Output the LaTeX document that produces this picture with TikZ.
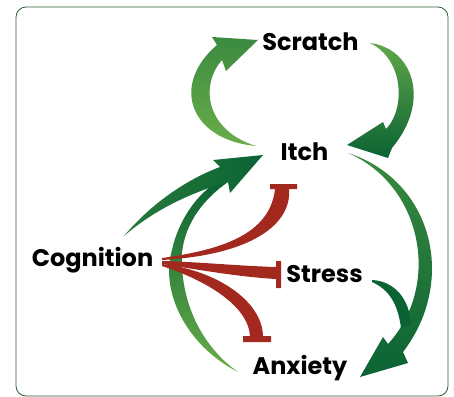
\documentclass[tikz,border=0pt]{standalone}
\usepackage{fontspec}
\setmainfont{Poppins}
\definecolor{leafdark}{HTML}{0B6334}
\definecolor{leafmid}{HTML}{3B8A40}
\definecolor{leaflight}{HTML}{6AAE4A}
\definecolor{calmred}{HTML}{A3291F}
\definecolor{framegreen}{HTML}{2E5E35}
\begin{document}
\begin{tikzpicture}[x=1pt, y=-1pt,
    every node/.style={font=\fontsize{24}{28}\selectfont\bfseries, anchor=base, inner sep=0pt},
    frame/.style={draw=framegreen, line width=0.8pt, rounded corners=10pt},
    boost/.style={fill=leafdark},
    inhibit/.style={fill=calmred},
]
  \useasboundingbox (0,0) rectangle (454,396);
  \draw [frame] (16,7) rectangle (448,396);

  \node (scratch)   at (310.5,50)  {Scratch};
  \node (itch)      at (304.5,160) {Itch};
  \node (cognition) at (92.5,266)  {Cognition};
  \node (stress)    at (324.5,282) {Stress};
  \node (anxiety)   at (300,374)   {Anxiety};

  \shade [top color=leafmid, bottom color=leaflight]
    (256,146) .. controls (190,140) and (170,85) .. (217,45) -- (212,37) -- (258,40)
    -- (226,71) -- (222,60) .. controls (200,85) and (205,130) .. (256,146) -- cycle;
  \shade [top color=leaflight!80!leafmid, bottom color=leafdark]
    (370,43) .. controls (412,48) and (432,100) .. (392,148) -- (388,158) -- (347,145)
    -- (383,122) -- (386,129) .. controls (405,110) and (405,60) .. (370,43) -- cycle;
  \shade [top color=leafmid, bottom color=leafdark]
    (348,153) .. controls (432,180) and (458,280) .. (403,352) -- (408,363) -- (360,377)
    -- (383,337) -- (388,344) .. controls (442,285) and (422,185) .. (348,153) -- cycle;
  \fill [boost]
    (372,280) .. controls (395,281) and (410,300) .. (411,325) -- (401,328)
    .. controls (398,305) and (390,290) .. (372,282) -- cycle;
  \shade [top color=leafdark, bottom color=leaflight]
    (238,372) .. controls (185,345) and (160,290) .. (172,250) .. controls (178,222) and (195,197) .. (214,184)
    -- (228,182) .. controls (205,198) and (185,222) .. (182,253)
    .. controls (180,300) and (200,345) .. (238,372) -- cycle;
  \shade [left color=leafmid!60!leafdark, right color=leafdark]
    (124,236) .. controls (150,205) and (185,180) .. (220,167) -- (213,160) -- (263,155)
    -- (230,193) -- (228,182) .. controls (200,190) and (160,205) .. (124,236) -- cycle;

  \fill [inhibit]
    (162,258) .. controls (220,250) and (270,235) .. (275,189) -- (270,189) -- (270,184)
    -- (297,184) -- (297,189) -- (289,189) .. controls (292,225) and (250,255) .. (162,260) -- cycle;
  \fill [inhibit]
    (162,261) .. controls (200,262) and (240,266) .. (276,267) -- (276,261) -- (281,261)
    -- (281,288) -- (276,288) -- (276,279) .. controls (240,277) and (200,270) .. (162,264) -- cycle;
  \fill [inhibit]
    (162,264) .. controls (215,270) and (262,300) .. (263,336) -- (271,336) -- (271,342)
    -- (243,342) -- (243,336) -- (250,336) .. controls (248,305) and (205,280) .. (162,266) -- cycle;
\end{tikzpicture}
\end{document}
